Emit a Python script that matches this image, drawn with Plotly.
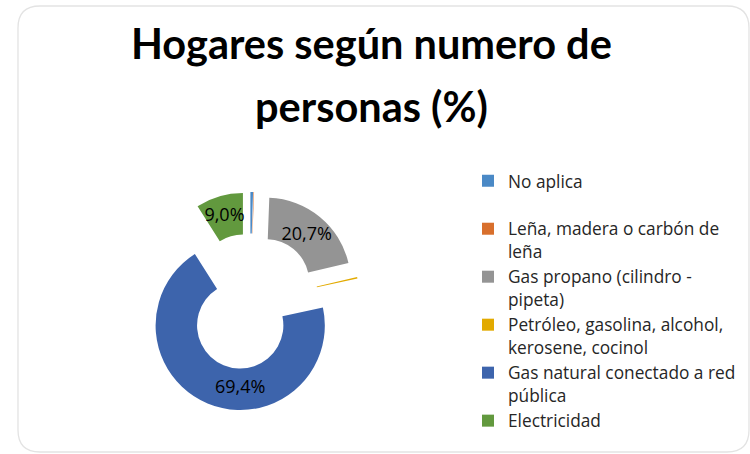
import plotly.graph_objects as go

categories = [
    "No aplica<br>\u00a0",
    "Leña, madera o carbón de<br>leña",
    "Gas propano (cilindro -<br>pipeta)",
    "Petróleo, gasolina, alcohol,<br>kerosene, cocinol",
    "Gas natural conectado a red<br>pública",
    "Electricidad",
]
values = [0.5, 0.1, 20.7, 0.3, 69.4, 9.0]
slice_labels = ["", "", "20,7%", "", "69,4%", "9,0%"]
colors = ["#4A89C6", "#D86F2C", "#949494", "#E2AA00", "#3D64AC", "#62993E"]
title_lines = ["Hogares según numero de", "personas (%)"]

W, H = 750, 454
CX, CY, HALF = 250, 302, 110

fig = go.Figure()
fig.add_trace(go.Pie(
    labels=categories,
    values=values,
    text=slice_labels,
    textinfo="text",
    textposition="inside",
    insidetextorientation="horizontal",
    textfont=dict(family="Open Sans", size=18, color="black"),
    sort=False,
    direction="clockwise",
    rotation=0,
    hole=0.51,
    pull=[0.3] * len(values),
    marker=dict(colors=colors, line=dict(width=0)),
    domain=dict(x=[(CX - HALF) / W, (CX + HALF) / W],
                y=[1 - (CY + HALF) / H, 1 - (CY - HALF) / H]),
    showlegend=True,
))

# rounded border
x0, y0, x1, y1, r = 18, 6, 749, 452, 22
def px(x):
    return x / W
def py(y):
    return 1 - y / H
path = (
    f"M {px(x0+r)},{py(y0)} L {px(x1-r)},{py(y0)} Q {px(x1)},{py(y0)} {px(x1)},{py(y0+r)} "
    f"L {px(x1)},{py(y1-r)} Q {px(x1)},{py(y1)} {px(x1-r)},{py(y1)} "
    f"L {px(x0+r)},{py(y1)} Q {px(x0)},{py(y1)} {px(x0)},{py(y1-r)} "
    f"L {px(x0)},{py(y0+r)} Q {px(x0)},{py(y0)} {px(x0+r)},{py(y0)} Z"
)

annotations = []
for line, ymid in zip(title_lines, [43, 106]):
    annotations.append(dict(
        text=f"<b>{line}</b>", showarrow=False,
        xref="paper", yref="paper",
        x=371 / W, xanchor="center",
        y=1 - ymid / H, yanchor="middle",
        font=dict(family="Lato", size=41.5, color="black"),
    ))

fig.update_layout(
    width=W, height=H,
    margin=dict(l=0, r=0, t=0, b=0),
    paper_bgcolor="white",
    plot_bgcolor="white",
    annotations=annotations,
    legend=dict(
        x=468 / W, xanchor="left",
        y=1 - 163 / H, yanchor="top",
        font=dict(family="Open Sans", size=17.3, color="#262626"),
        valign="top",
        bgcolor="rgba(0,0,0,0)",
        itemwidth=30,
        tracegroupgap=0,
    ),
    uniformtext=dict(minsize=18, mode="show"),
    shapes=[dict(type="path", xref="paper", yref="paper", path=path,
                 line=dict(color="#E3E3E3", width=1.3), layer="below")],
)

fig.write_html(
    "out.html",
    config={"displayModeBar": False},
    post_script="document.body.style.margin='0';document.body.style.overflow='hidden';",
)
